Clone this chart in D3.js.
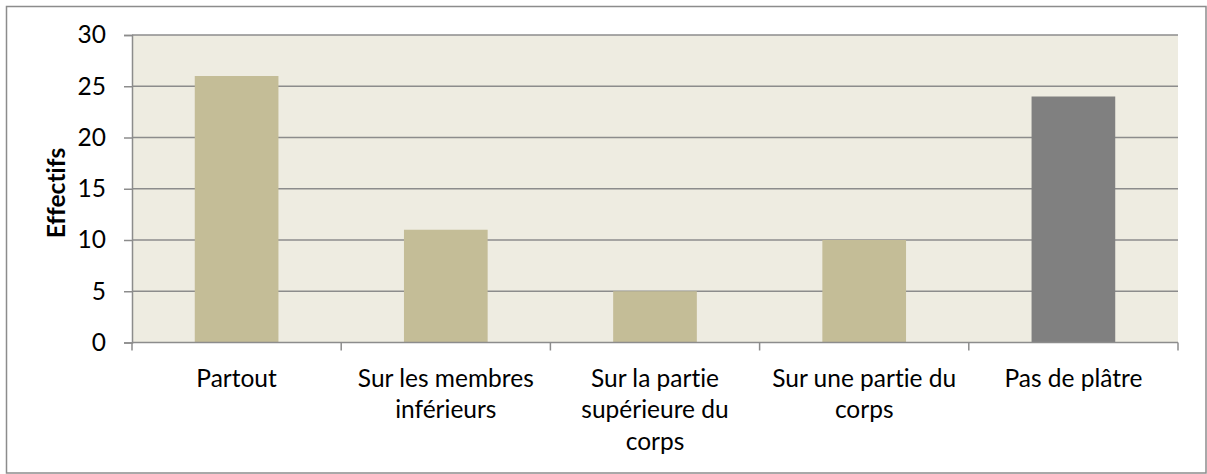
<!DOCTYPE html>
<html>
<head>
<meta charset="utf-8">
<script src="https://cdn.jsdelivr.net/npm/d3@7"></script>
<style>
  html, body { margin: 0; padding: 0; background: #fff; }
  svg { display: block; }
  text { font-family: Lato, "Open Sans", "Liberation Sans", sans-serif; fill: #000; font-variant-ligatures: none; }
</style>
</head>
<body>
<div id="chart"></div>
<script>
// Répartition des effectifs selon la localisation du plâtre
const categories = [
  "Partout",
  "Sur les membres inférieurs",
  "Sur la partie supérieure du corps",
  "Sur une partie du corps",
  "Pas de plâtre"
];
// Libellés d'axe découpés en lignes
const categoryLines = [
  ["Partout"],
  ["Sur les membres", "inférieurs"],
  ["Sur la partie", "supérieure du", "corps"],
  ["Sur une partie du", "corps"],
  ["Pas de plâtre"]
];
const values = [26, 11, 5, 10, 24];
const barColors = ["#C4BD97", "#C4BD97", "#C4BD97", "#C4BD97", "#808080"];
const yTicks = [0, 5, 10, 15, 20, 25, 30];
const yTitle = "Effectifs";

const W = 1207, H = 474;
const plot = { left: 132, right: 1178, top: 35, bottom: 342.5 };
const FONT = 24.5;

const svg = d3.select("#chart").append("svg")
  .attr("width", W).attr("height", H);

// Cadre extérieur
svg.append("rect")
  .attr("x", 6.5).attr("y", 6.5)
  .attr("width", W - 7.5).attr("height", H - 7.5)
  .attr("fill", "#fff")
  .attr("stroke", "#8c8c8c").attr("stroke-width", 1.5);

const x = d3.scaleBand()
  .domain(categories)
  .range([plot.left, plot.right])
  .paddingInner(0.6).paddingOuter(0.3);

const xBand = d3.scaleBand()
  .domain(categories)
  .range([plot.left, plot.right]);

const y = d3.scaleLinear()
  .domain([0, 30])
  .range([plot.bottom, plot.top]);

// Fond de la zone de traçage
svg.append("rect")
  .attr("x", plot.left).attr("y", plot.top)
  .attr("width", plot.right - plot.left)
  .attr("height", plot.bottom - plot.top)
  .attr("fill", "#EEECE1");

// Quadrillage horizontal
svg.append("g")
  .selectAll("line")
  .data(yTicks.filter(d => d > 0))
  .join("line")
  .attr("x1", plot.left).attr("x2", plot.right)
  .attr("y1", d => y(d)).attr("y2", d => y(d))
  .attr("stroke", "#8c8c8c").attr("stroke-width", 1.5);

// Barres
svg.append("g")
  .selectAll("rect")
  .data(values)
  .join("rect")
  .attr("x", (d, i) => x(categories[i]))
  .attr("width", x.bandwidth())
  .attr("y", d => y(d))
  .attr("height", d => y(0) - y(d))
  .attr("fill", (d, i) => barColors[i]);

// Axe vertical
const yAxis = svg.append("g")
  .attr("transform", `translate(${plot.left},0)`)
  .call(d3.axisLeft(y).tickValues(yTicks).tickSize(8).tickPadding(18));
yAxis.select(".domain").attr("stroke", "#8c8c8c").attr("stroke-width", 1.5);
yAxis.selectAll(".tick line").attr("stroke", "#8c8c8c").attr("stroke-width", 1.5);
yAxis.selectAll(".tick text")
  .attr("font-size", FONT)
  .style("font-family", "Lato, 'Open Sans', sans-serif");

// Axe horizontal avec graduations entre les catégories
const xAxisG = svg.append("g");
xAxisG.append("line")
  .attr("x1", plot.left).attr("x2", plot.right)
  .attr("y1", plot.bottom).attr("y2", plot.bottom)
  .attr("stroke", "#8c8c8c").attr("stroke-width", 1.5);
const boundaries = categories.map(c => xBand(c)).concat([xBand.range()[1]]);
xAxisG.selectAll("line.tick")
  .data(boundaries)
  .join("line")
  .attr("class", "tick")
  .attr("x1", d => d).attr("x2", d => d)
  .attr("y1", plot.bottom).attr("y2", plot.bottom + 8)
  .attr("stroke", "#8c8c8c").attr("stroke-width", 1.5);

// Libellés des catégories
const labels = svg.append("g")
  .selectAll("text")
  .data(categories)
  .join("text")
  .attr("x", d => xBand(d) + xBand.bandwidth() / 2)
  .attr("y", 386.5)
  .attr("text-anchor", "middle")
  .attr("font-size", FONT);
labels.each(function (d, i) {
  const t = d3.select(this);
  categoryLines[i].forEach((line, j) => {
    t.append("tspan")
      .attr("x", xBand(d) + xBand.bandwidth() / 2)
      .attr("dy", j === 0 ? 0 : 31.7)
      .text(line);
  });
});

// Titre de l'axe vertical
svg.append("text")
  .attr("transform", `translate(65,193) rotate(-90)`)
  .attr("text-anchor", "middle")
  .attr("font-size", FONT)
  .attr("font-weight", "bold")
  .text(yTitle);
</script>
</body>
</html>
